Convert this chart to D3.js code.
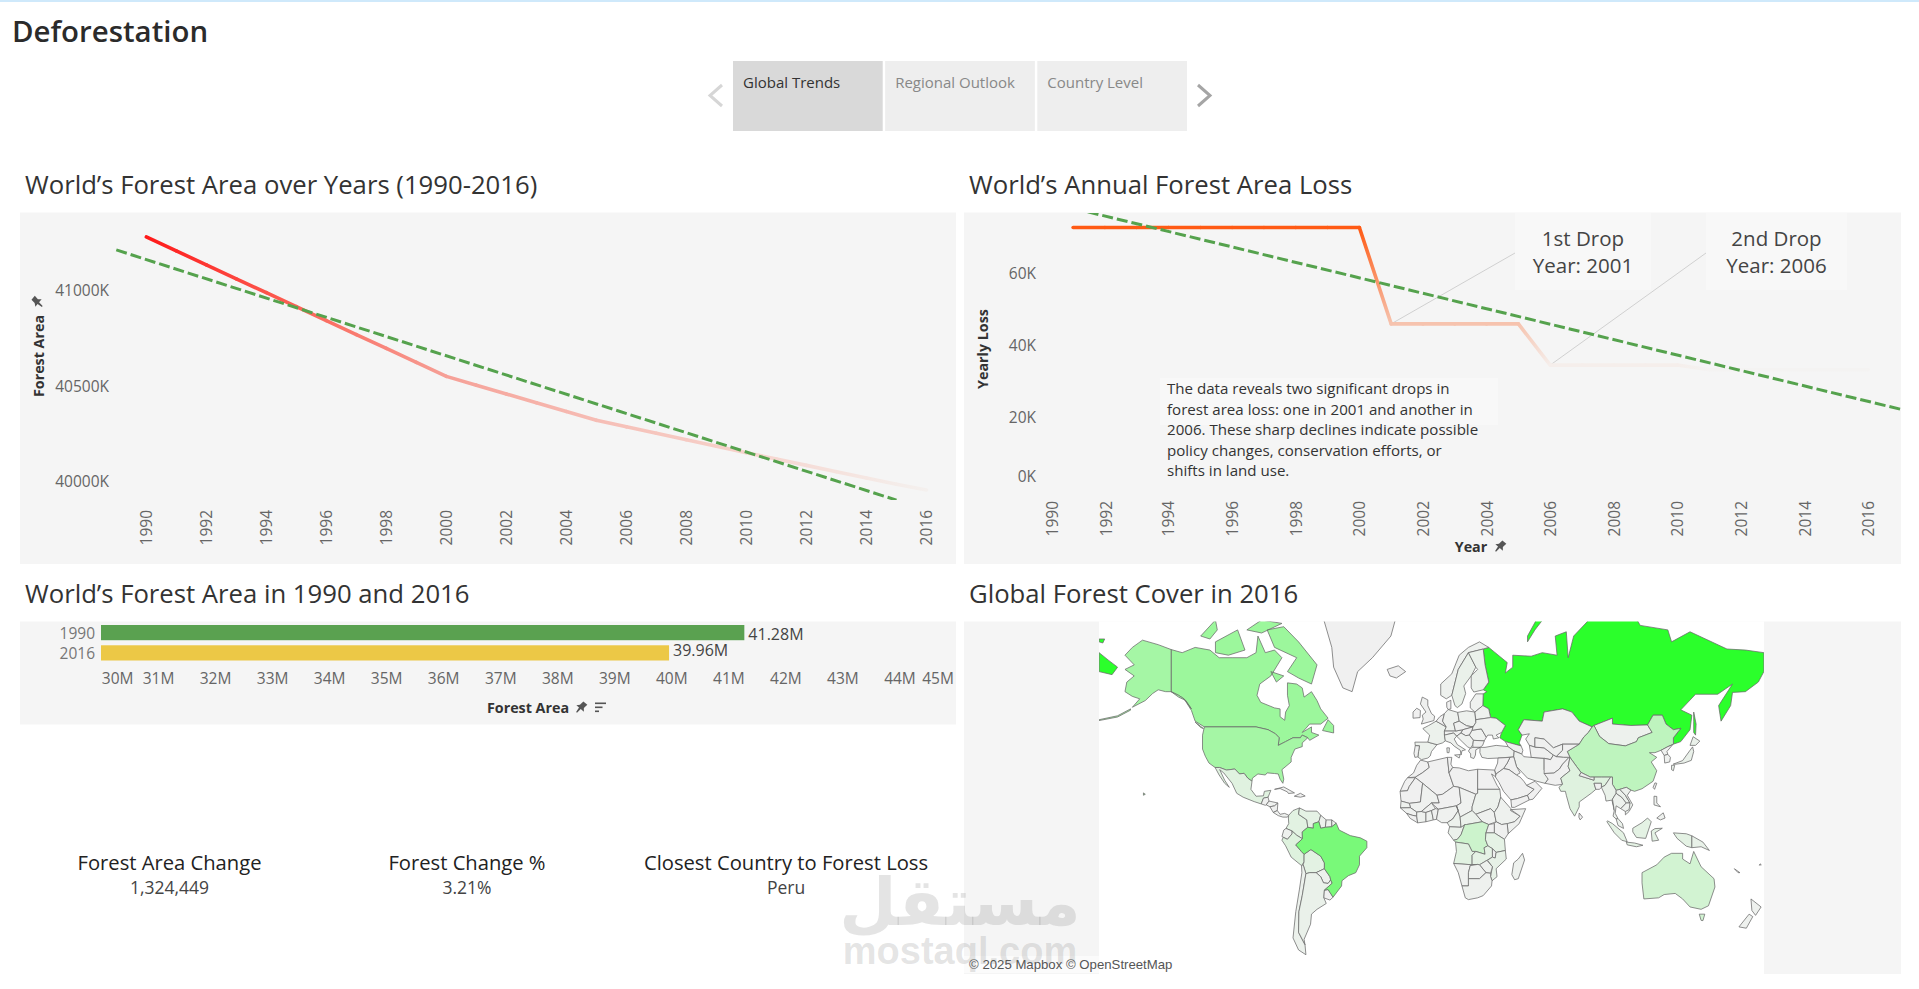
<!DOCTYPE html>
<html><head><meta charset="utf-8">
<script src="https://cdnjs.cloudflare.com/ajax/libs/d3/7.8.5/d3.min.js"></script>
<style>
html,body{margin:0;padding:0;background:#fff;overflow:hidden}
text{font-family:"Open Sans",sans-serif}
</style></head><body><svg id="c" width="1919" height="989"></svg>
<script>
// ---------- DATA ----------
const pageTitle="Deforestation";
const tabs=["Global Trends","Regional Outlook","Country Level"];
const years=[1990,1991,1992,1993,1994,1995,1996,1997,1998,1999,2000,2001,2002,2003,2004,2005,2006,2007,2008,2009,2010,2011,2012,2013,2014,2015,2016];
const forestAreaK=[41283,41210,41137,41064,40991,40918,40845,40772,40699,40626,40553,40507,40461,40415,40369,40323,40289,40255,40221,40187,40153,40120,40087,40054,40021,39988,39958];
const areaTrendYears=[1989,2015];
const areaTrendValues=[41215,39905];
const areaTicks=[40000,40500,41000];
const evenYears=[1990,1992,1994,1996,1998,2000,2002,2004,2006,2008,2010,2012,2014,2016];
const lossYears=[1991,1992,1993,1994,1995,1996,1997,1998,1999,2000,2001,2002,2003,2004,2005,2006,2007,2008,2009,2010,2011,2012,2013,2014,2015,2016];
const yearlyLossK=[72.7,72.7,72.7,72.7,72.7,72.7,72.7,72.7,72.7,72.7,45.8,45.8,45.8,45.8,45.8,34.3,34.3,34.3,34.3,34.3,33,33,33,33,33,33];
const lossTrendYears=[1991,2017];
const lossTrendValues=[78.05,22];
const lossTicks=[0,20,40,60];
const dropNotes=[{year:2001,loss:45.8,l1:"1st Drop",l2:"Year: 2001"},{year:2006,loss:34.3,l1:"2nd Drop",l2:"Year: 2006"}];
const noteLines=["The data reveals two significant drops in","forest area loss: one in 2001 and another in","2006. These sharp declines indicate possible","policy changes, conservation efforts, or","shifts in land use."];
const barYears=["1990","2016"];
const barValuesM=[41.28,39.96];
const barLabels=["41.28M","39.96M"];
const barTicks=[30,31,32,33,34,35,36,37,38,39,40,41,42,43,44,45];
const kpiTitles=["Forest Area Change","Forest Change %","Closest Country to Forest Loss"];
const kpiValues=["1,324,449","3.21%","Peru"];
// Map: [country, forest area in million km², rings of [lon,lat]]
const mapCountries=[
["Russia",8.15,[[[28,69.7],[31,70],[41,67],[40,64.7],[44,66],[44,68.5],[54,68.3],[60,69],[68,68.5],[67,72],[73,72.7],[74,68],[77,72],[87,75],[104,77.7],[113,73.7],[128,73],[130,71],[140,72.7],[160,69.7],[170,69.5],[180,69],[180,65],[177,62.5],[170,60],[163,59.8],[162,56],[156.8,51],[155.5,56],[163,62],[155,59.3],[143,59.3],[135,54.7],[141,53],[140,48],[135,43.5],[131,42.5],[131,45],[135,48.5],[131,48],[127,50],[125,53],[120,53],[117,49.7],[108,49.5],[98,50],[98,52],[88,49.5],[87,49],[80,51],[76,54],[71,55],[61,54],[60,51],[50,51.5],[47,48],[49,46],[47.5,43],[48.5,41.8],[45,42.5],[40,43.5],[37,45],[38,47],[40,49.5],[35,52],[32,52.2],[31,55],[27.8,56],[28,59.4],[30,60],[28,60.5],[31,62.5],[29,66.5]],[[52,71],[56,73],[68,77],[60,76],[52,72]],[[142,54],[143.3,50],[143,46],[142,47],[142,51]],[[-180,69],[-175,67.5],[-170,66],[-173,64.3],[-180,65]],[[-180,71.5],[-177,71.5],[-178,70.8],[-180,71]]]],
["Canada",3.47,[[[-141,69.6],[-135,69],[-128,70],[-120,69.5],[-115,68],[-108,68],[-100,68],[-95,69],[-94,72],[-90,69],[-85,69.5],[-81,68],[-87,64],[-93,62],[-94.5,59],[-92.5,57],[-85,55.3],[-82,55],[-82,52.5],[-79.5,51.3],[-79,54],[-77,56],[-78,59],[-78,62.3],[-73,62],[-70,61],[-69,58.5],[-65,60],[-62,57.5],[-60,55],[-56,52],[-60,50],[-66,50],[-70,47],[-65,49],[-65,47],[-61,46],[-66,44],[-67,45],[-70,46],[-71,45],[-75,45],[-79,43.5],[-83,42],[-82.5,45],[-84.5,46.5],[-88.5,48],[-95,49],[-123,49],[-128,51],[-130,54.5],[-134,58],[-137,59],[-141,60]],[[-80,73.5],[-72,71],[-62,66.5],[-65,62],[-72,63.5],[-78,65],[-73,68],[-85,70],[-89,73]],[[-117,71],[-105,73],[-101,69.5],[-110,68.5],[-117,69]],[[-90,76.5],[-75,78],[-63,81.5],[-72,83],[-90,82]],[[-125,72],[-117,74.5],[-116,73],[-120,71.5]],[[-59,47.7],[-53,46.8],[-53,49.5],[-56,51.5]],[[-128,50.7],[-123.5,48.4],[-125,48.8]],[[-100,73],[-92,74.5],[-81,74],[-92,72.5]],[[-117,75.5],[-105,76.5],[-106,75],[-116,74.8]],[[-96,80],[-87,81],[-86,78.5],[-94,78]],[[-95,75.6],[-80,75.8],[-80,74.8],[-92,74.8]],[[-87,65],[-80,64],[-84,62.5]]]],
["United States",3.1,[[[-123,49],[-95,49],[-88.5,48],[-84.5,46.5],[-82.5,45],[-83,42],[-79,43.5],[-75,45],[-71,45],[-70,46],[-67,45],[-70,43],[-70,41.5],[-74,40.5],[-76,37],[-76,35],[-81,31.5],[-80,27],[-80.5,25],[-82,27],[-83,29.5],[-85,29.7],[-89,30],[-90,29],[-94,29.5],[-97,27.5],[-97.2,26],[-99.5,27.5],[-101.5,29.8],[-104,29.5],[-106.5,31.8],[-111,31.3],[-114.8,32.5],[-117.2,32.5],[-120.5,34.5],[-122.5,37.5],[-124,40.5],[-124,46]],[[-141,69.6],[-148,70.5],[-156.5,71.3],[-162,70],[-166,68.5],[-161,66.5],[-166,65.5],[-161,64],[-165,62.5],[-166,60],[-162,58.7],[-158,58],[-162,55.5],[-155,57.5],[-151,59.5],[-148,60.5],[-144,60],[-141,60],[-137,59],[-134,58],[-130,55],[-133,57.5],[-137,58.5],[-141,60]],[[-163,55],[-170,52.8],[-180,51.5],[-180,51.2],[-170,52.4],[-163,54.6]],[[-156,20.2],[-155,19.5],[-156,19]]]],
["Greenland",0,[[[-73,78],[-60,82],[-32,83.5],[-20,81.5],[-18,76],[-22,72],[-32,68],[-40,65],[-43,60],[-48,61],[-53,66],[-54,70],[-60,76]]]],
["Iceland",0,[[[-24,65.5],[-18,66.3],[-14,65],[-19,63.5],[-22.5,64]]]],
["Mexico",.66,[[[-117.2,32.5],[-114.8,32.5],[-111,31.3],[-106.5,31.8],[-104,29.5],[-101.5,29.8],[-99.5,27.5],[-97.2,26],[-97.8,22],[-95,18.5],[-91,18.7],[-90.5,21],[-87,21.5],[-88.5,18],[-91,17.5],[-92.2,14.5],[-96,15.7],[-102,18],[-105.5,20],[-108,25],[-112.5,30],[-114.7,31.5],[-112,26.5],[-109.5,23],[-112,25],[-115,29]]]],
["Guatemala",.04,[[[-92.2,14.5],[-91,17.5],[-88.5,18],[-88,16],[-89.5,14],[-90,13.8]]]],
["Honduras",.05,[[[-89.5,14],[-88,16],[-83.2,15],[-85,13.5],[-87.5,13]]]],
["Nicaragua",.03,[[[-87.5,13],[-85,13.5],[-83.2,15],[-83.5,11],[-85.7,10]]]],
["Panama",.05,[[[-85.7,10],[-83.5,11],[-82,9],[-79.5,9.5],[-77.3,8.5],[-78,7.5],[-80.5,7.5],[-83,8.3]]]],
["Cuba",.03,[[[-85,22],[-80,23.2],[-74.2,20.2],[-77.5,19.9],[-78,20.7],[-82,22.4]]]],
["Hispaniola",.01,[[[-74.3,18.5],[-71,20],[-68.4,18.6],[-71,18]]]],
["Colombia",.58,[[[-77.3,8.5],[-75,11],[-71.5,12.4],[-72,9],[-67.5,6],[-67,2],[-70,-.5],[-69.9,-4.2],[-73,-2.3],[-75.5,0],[-78.8,1.4],[-77.3,4],[-77.5,7]]]],
["Venezuela",.46,[[[-71.5,12.4],[-68,10.7],[-62,10.7],[-60,8.5],[-61,5],[-64,4],[-64,1.5],[-67,2],[-67.5,6],[-72,9]]]],
["Guyana",.16,[[[-60,8.5],[-57,6],[-57.5,2],[-60,1.5],[-61,5]]]],
["Suriname",.15,[[[-57,6],[-54,6],[-54,2.3],[-57.5,2]]]],
["French Guiana",.08,[[[-54,6],[-51.6,4.2],[-54,2.3]]]],
["Ecuador",.12,[[[-78.8,1.4],[-75.5,0],[-75.5,-1.5],[-78,-4.5],[-81,-3],[-80,.5]]]],
["Peru",.74,[[[-81,-5],[-80.3,-3.4],[-78,-4.5],[-75.5,-1.5],[-75.5,0],[-73,-2.3],[-69.9,-4.2],[-73.5,-7.5],[-70.5,-11],[-69,-12.5],[-69,-16.5],[-70.4,-18.4],[-76,-14],[-79,-8]]]],
["Bolivia",.55,[[[-69,-12.5],[-65.3,-10],[-60,-13.5],[-58,-17],[-58,-20],[-62.5,-22],[-66,-22],[-68,-22.5],[-69.5,-18],[-69,-16.5]]]],
["Paraguay",.15,[[[-58,-20],[-55,-24],[-54.6,-25.6],[-56,-27.3],[-58.5,-27],[-60,-24],[-62.5,-22]]]],
["Chile",.18,[[[-70.4,-18.4],[-69.5,-18],[-68,-22.5],[-70,-33],[-71.8,-40],[-72,-48],[-68.5,-52.3],[-68,-55.5],[-72,-54],[-75,-50],[-73.5,-40],[-71.5,-30],[-70.2,-22]]]],
["Argentina",.27,[[[-66,-22],[-62.5,-22],[-60,-24],[-58.5,-27],[-56,-27.3],[-54.6,-25.6],[-53.8,-27.2],[-58,-30.5],[-58.3,-34],[-57,-36.5],[-62,-39],[-65,-41],[-65.5,-45],[-69,-50.5],[-68.5,-52.3],[-72,-48],[-71.8,-40],[-70,-33],[-68,-22.5]]]],
["Uruguay",.02,[[[-58,-30.5],[-56,-30.2],[-53.3,-33.7],[-55,-35],[-58.3,-34]]]],
["Brazil",4.93,[[[-69.9,-4.2],[-70,-.5],[-67,2],[-64,1.5],[-64,4],[-61,5],[-60,1.5],[-57.5,2],[-54,2.3],[-51.6,4.2],[-50,.5],[-44,-2.5],[-38.5,-3.7],[-35,-5.5],[-35,-9],[-39,-13.5],[-39,-18],[-41,-22],[-45,-23.5],[-48.5,-26],[-48.7,-28.5],[-53.3,-33.7],[-56,-30.2],[-58,-30.5],[-53.8,-27.2],[-54.6,-25.6],[-55,-24],[-58,-20],[-58,-17],[-60,-13.5],[-65.3,-10],[-69,-12.5],[-70.5,-11],[-73.5,-7.5]]]],
["Morocco",.01,[[[-5.9,35.8],[-2,35],[-1.2,32.5],[-5,30],[-8.7,28],[-13,27.7],[-9.7,30],[-8,33.5]]]],
["Western Sahara",0,[[[-13,27.7],[-8.7,27.7],[-12,23.5],[-13,21.3],[-17,21],[-14.5,26]]]],
["Algeria",.02,[[[-2,35],[8.6,37],[9.5,30],[12,23.5],[6,19.5],[3,19],[-4.8,25],[-8.7,27.7],[-8.7,28],[-5,30],[-1.2,32.5]]]],
["Tunisia",.01,[[[8.6,37],[11,37],[10.5,34],[11.5,32.5],[9.5,30]]]],
["Libya",0,[[[11.5,32.5],[15,32.3],[20,31],[25,31.7],[25,20],[24,19.5],[15,23],[12,23.5],[9.5,30]]]],
["Egypt",0,[[[25,31.7],[34.2,31.3],[35,28],[32.5,29.5],[35.5,24],[37,22],[25,22]]]],
["Mauritania",0,[[[-17,21],[-13,21.3],[-12,23.5],[-8.7,27.7],[-4.8,25],[-6,15.5],[-12,14.8],[-16.5,16]]]],
["Mali",.05,[[[-4.8,25],[3,19],[4.2,15],[0,15],[-5.5,10.5],[-8,10.2],[-11.4,12.5],[-12,14.8],[-6,15.5]]]],
["Niger",.01,[[[3,19],[6,19.5],[12,23.5],[15,23],[16,15],[13.5,13.5],[3.7,11.7],[0,15],[4.2,15]]]],
["Chad",.05,[[[15,23],[24,19.5],[22,13],[22,11],[15.5,7.5],[13.5,13.5],[16,15]]]],
["Sudan",.18,[[[25,22],[37,22],[37.5,18],[36,13],[34,10],[32,12],[24,9],[22,11],[22,13],[24,19.5],[25,20]]]],
["South Sudan",.07,[[[24,9],[32,12],[34,10],[35,5],[31,3.5],[27.5,5]]]],
["Ethiopia",.12,[[[36,13],[37.5,18],[43,12],[42.8,11],[48,8],[45,5],[41.5,4],[38,3.5],[35,5],[34,10]]]],
["Somalia",.06,[[[43,11.5],[51,12],[47.5,4],[41.5,-1.5],[41,4],[45,5],[48,8]]]],
["Kenya",.04,[[[35,5],[38,3.5],[41,4],[41.5,-1.5],[39.5,-4.5],[34,-1],[34,4]]]],
["Senegal",.08,[[[-16.5,16],[-12,14.8],[-11.4,12.5],[-16.8,12.4]]]],
["Guinea",.06,[[[-16.8,12.4],[-11.4,12.5],[-8,10.2],[-8,8],[-10.5,8.5],[-13.5,9.5]]]],
["Liberia",.04,[[[-13.5,9.5],[-10.5,8.5],[-8,8],[-7.5,4.4],[-11.5,6.8]]]],
["Ivory Coast",.1,[[[-8,10.2],[-5.5,10.5],[-3,10],[-3,5],[-7.5,4.4],[-8,8]]]],
["Burkina Faso",.05,[[[-5.5,10.5],[0,15],[2.2,12],[0,11],[-3,10]]]],
["Ghana",.09,[[[-3,10],[0,11],[1,6],[-3,5]]]],
["Benin",.04,[[[0,11],[2.2,12],[3.7,11.7],[2.7,6.3],[1,6]]]],
["Nigeria",.07,[[[3.7,11.7],[13.5,13.5],[14.5,11],[11.5,6.5],[8.5,4.5],[5.5,4.5],[2.7,6.3]]]],
["Cameroon",.19,[[[8.5,4.5],[11.5,6.5],[14.5,11],[13.5,13.5],[15.5,7.5],[16,2],[9.8,2.3]]]],
["Central African Republic",.22,[[[15.5,7.5],[22,11],[24,9],[27.5,5],[19,3.5],[16,2]]]],
["Congo",.22,[[[9.8,2.3],[16,2],[18,3.5],[16,-2],[14,-4.5],[12,-5],[9,-1]]]],
["DR Congo",1.5,[[[18,3.5],[19,3.5],[27.5,5],[31,3.5],[29.5,-1],[29.2,-4.5],[30.5,-8],[28.5,-9],[29,-12.5],[24,-11],[22,-11],[20,-7],[13,-6],[12,-5],[14,-4.5],[16,-2]]]],
["Uganda",.02,[[[31,3.5],[34,4],[34,-1],[29.5,-1]]]],
["Tanzania",.47,[[[29.5,-1],[34,-1],[39.5,-4.5],[40,-10.5],[35,-11.5],[33,-9.5],[30.5,-8],[29.2,-4.5]]]],
["Angola",.58,[[[13,-6],[20,-7],[22,-11],[24,-11],[22,-13],[22,-18],[12,-17.3],[13.5,-11]]]],
["Zambia",.49,[[[22,-13],[24,-11],[29,-12.5],[28.5,-9],[30.5,-8],[33,-9.5],[33,-14],[30,-15.7],[26,-18],[22,-18]]]],
["Malawi",.03,[[[33,-9.5],[35,-11.5],[34.5,-14.5],[33,-14]]]],
["Mozambique",.38,[[[35,-11.5],[40,-10.5],[40.5,-15],[35,-20],[35.5,-24],[32.8,-26],[32,-24],[33,-19],[30.3,-15.6],[33,-14],[34.5,-14.5]]]],
["Zimbabwe",.14,[[[26,-18],[30,-15.7],[33,-19],[32,-22.3],[29.5,-22]]]],
["Namibia",.07,[[[12,-17.3],[22,-18],[25,-17.8],[21,-18.4],[20,-22],[20,-28.5],[16.5,-28.5],[14.5,-22]]]],
["Botswana",.1,[[[21,-18.4],[25,-17.8],[26,-18],[29.5,-22],[26,-25],[20,-25],[20,-22]]]],
["South Africa",.09,[[[16.5,-28.5],[20,-28.5],[20,-25],[26,-25],[29.5,-22],[32,-22.3],[32,-24],[32.8,-26],[32.5,-28.5],[28,-33],[25,-34],[20,-34.8],[18.3,-34]]]],
["Madagascar",.12,[[[49.3,-12],[50.4,-15.5],[47,-25],[45,-25.5],[43.5,-23],[44.5,-17],[47,-15]]]],
["Spain",.18,[[[-9,43.3],[-2,43.3],[3,42.3],[0,39.5],[-.7,37.6],[-2,36.7],[-5.5,36],[-7.4,37.2],[-7,39.5],[-6.5,41.8],[-8.8,41.9]]]],
["Portugal",.03,[[[-8.8,41.9],[-6.5,41.8],[-7,39.5],[-7.4,37.2],[-9,37],[-9.5,38.7]]]],
["France",.17,[[[-2,43.3],[3,42.3],[6,43],[7.5,43.8],[7,46],[7,47.5],[8,49],[2.5,51],[-1.5,49.5],[-4.7,48.4],[-1,46]]]],
["United Kingdom",.03,[[[-5.5,50],[1.3,51.2],[1.7,52.7],[0,53.5],[-2,56],[-2,57.7],[-5,58.5],[-6,56.5],[-3,54],[-5,53],[-4.5,51.7]]]],
["Ireland",.01,[[[-10,52],[-6.2,52.2],[-6,54.5],[-8,55.2],[-10,54]]]],
["Benelux",.01,[[[2.5,51],[8,49],[6,51],[7,53.5],[4.5,52.5]]]],
["Germany",.11,[[[7,47.5],[13,47.5],[12,50.3],[15,51],[14.2,53.9],[9,54.8],[7,53.5],[6,51],[8,49]]]],
["Poland",.09,[[[14.2,53.9],[19,54.4],[23.5,54],[24,50.5],[22.5,49],[19,49.4],[15,51]]]],
["Austria",.04,[[[7,47.5],[13,47.5],[17,48],[16,46.8],[13.6,45.6],[12,46.8],[7,46]]]],
["Czechia",.04,[[[12,50.3],[15,51],[19,49.4],[22.5,49],[17,48],[13,47.5]]]],
["Hungary",.02,[[[16,46.8],[17,48],[22.5,49],[22,47.8],[20.5,46],[18.5,45.8]]]],
["Romania",.07,[[[22,47.8],[27,48.3],[29.7,45.2],[28.6,43.8],[22.7,44],[20.5,46]]]],
["Balkans",.06,[[[13.6,45.6],[16,46.8],[18.5,45.8],[20.5,46],[22.7,44],[22.4,42.3],[21,40.8],[19.4,41.5],[17,43.2]]]],
["Bulgaria",.04,[[[22.7,44],[28.6,43.8],[27.7,42],[26.3,41.2],[22.4,41.2],[22.4,42.3]]]],
["Greece",.04,[[[20,39.7],[21,40.8],[22.4,41.2],[26.3,41.2],[24,40.2],[23.8,38],[22.9,36.5],[21.2,37],[21.2,38.5]]]],
["Italy",.09,[[[7.5,43.8],[7,46],[12,46.8],[13.6,45.6],[12.3,44.5],[14,42.3],[18.4,40.2],[16.5,39.8],[16,38],[15.6,40],[12.3,41.7],[10.5,43]],[[12.5,38],[15.5,38.2],[15,36.7]],[[8.3,41],[9.7,41],[9.5,39],[8.5,39]]]],
["Denmark",.01,[[[8.2,57],[10.5,57.6],[10.5,55],[9,54.8],[8.3,55.5]]]],
["Norway",.12,[[[5,59],[5,62],[11,64.5],[15,68.5],[20,70],[26,71],[31,70],[28,69.7],[20,69],[14.5,65.5],[12,61],[11,59],[8,58]]]],
["Sweden",.28,[[[11,59],[12,61],[14.5,65.5],[20,69],[24,66],[21.5,64],[17.5,61.5],[18.5,59.5],[16.5,56.5],[14,55.4],[12.7,56]]]],
["Finland",.22,[[[20,69],[28,69.7],[29,66.5],[31,62.5],[28,60.5],[22.9,59.9],[21.5,61],[21.5,64],[25,65.5],[24,66]]]],
["Baltics",.07,[[[21,57],[24,59.4],[28,59.4],[27.8,56],[23.5,54],[21,55.3]]]],
["Belarus",.09,[[[23.5,54],[27.8,56],[31,55],[32,52.2],[24,51.5]]]],
["Ukraine",.1,[[[24,50.5],[24,51.5],[32,52.2],[35,52],[40,49.5],[38,47],[35,46],[36.5,45],[33.5,44.5],[33,46],[30.5,46],[29.7,45.2],[27,48.3],[22,47.8],[22.5,49]]]],
["Turkey",.12,[[[26.3,41.2],[29,41.2],[35,42],[41.5,41.5],[44.8,39.7],[44.5,37.2],[36,36.7],[30.5,36.5],[27.3,37],[26.2,39]]]],
["Caucasus",.03,[[[40,43.5],[45,42.5],[48.5,41.8],[49.5,40],[48.9,38.4],[44.8,39.7],[41.5,41.5]]]],
["Kazakhstan",.03,[[[47,48],[50,51.5],[60,51],[61,54],[71,55],[76,54],[80,51],[87,49],[85,47],[82.5,45.3],[80,42.5],[71,42.5],[66,41],[61,44.5],[56,45],[56,41.3],[53,42],[51,44.5],[53,46.5],[49,46]]]],
["Mongolia",.13,[[[88,49.5],[98,52],[98,50],[108,49.5],[117,49.7],[119.5,47],[112,45],[111,43.5],[105,41.8],[96,42.7],[91,45.5]]]],
["China",2.1,[[[73.5,39.5],[80,42.5],[82.5,45.3],[85,47],[87,49],[88,49.5],[91,45.5],[96,42.7],[105,41.8],[111,43.5],[112,45],[119.5,47],[117,49.7],[120,53],[125,53],[127,50],[131,48],[135,48.5],[131,45],[131,42.5],[128,41.5],[124.3,40],[121,39],[118,39],[122,37],[119,35],[122,31],[120,26],[114,22.3],[110,21],[108,21.6],[105.5,23],[102,22],[100,21.5],[98,24.5],[98,28],[92,28],[88,28],[86,28],[81,30.2],[78.5,33],[75,37]]]],
["North Korea",.05,[[[124.3,40],[128,41.5],[130.6,42.3],[127.5,39.5],[128,38.3],[126,37.8]]]],
["South Korea",.06,[[[126,37.8],[128,38.3],[129.4,37],[129,35],[126.3,34.5]]]],
["Japan",.25,[[[130.9,34],[136,35.6],[140,40],[141.4,41.4],[142,39.5],[140.7,35.7],[136.8,34.5],[132.5,34]],[[140,42],[141.7,45.4],[145.3,43.7],[143,42]],[[130,33.5],[131.7,33.5],[131,31],[130,31.5]]]],
["Iran",.1,[[[44.5,37.2],[44.8,39.7],[48.9,38.4],[50,37.3],[54,37],[61,36.6],[61,31.5],[63.2,27],[61.5,25],[57,26],[52,27.5],[49,30.3],[46,33],[45,36]]]],
["Iraq",.01,[[[41,34.5],[42.5,37],[44.5,37.2],[45,36],[46,33],[48,30],[46,29],[42,31.5],[39,32]]]],
["Syria",0,[[[36,36.7],[42.5,37],[41,34.5],[39,32],[35,29.5],[34.2,31.3],[35.8,34.5]]]],
["Saudi Arabia",.01,[[[34.6,28.1],[35,29.5],[39,32],[42,31.5],[46,29],[48,28],[50,26],[51.5,24],[55.6,22],[52,19],[46.5,17.3],[43,16.6],[39,21],[36.5,25.5]]]],
["Yemen",.01,[[[43,16.6],[46.5,17.3],[52,19],[53,16.6],[45,12.7],[43.4,12.7]]]],
["Oman",0,[[[51.5,24],[56,26],[59.8,22.5],[55,17],[53,16.6],[52,19],[55.6,22]]]],
["Turkmenistan",.04,[[[53,42],[56,41.3],[61,41],[66,38],[64.5,36],[61,36.6],[54,37]]]],
["Uzbekistan",.03,[[[56,41.3],[56,45],[61,44.5],[66,41],[71,42.5],[71,40],[67.5,37.3],[66,38],[61,41]]]],
["Kyrgyzstan",.01,[[[71,42.5],[80,42.5],[73.5,39.5],[75,37],[71.5,37],[67.5,37.3],[71,40]]]],
["Afghanistan",.01,[[[61,36.6],[64.5,36],[66,38],[67.5,37.3],[71.5,37],[74.5,37],[71,34],[69.3,31.8],[66.3,29.9],[61,29.7],[61,31.5]]]],
["Pakistan",.01,[[[61,29.7],[66.3,29.9],[69.3,31.8],[71,34],[74.5,37],[75,37],[74,33],[75,31],[70,27.5],[71,24.5],[67,24],[61.5,25],[63.2,27]]]],
["India",.7,[[[74,33],[75,37],[78.5,33],[81,30.2],[80,28.7],[88,26.5],[88,28],[92,28],[97,28],[94,24],[92,23],[92,25],[88,25],[89,22],[86.5,20],[80,15.5],[80,13],[77.5,8],[75,12],[73,19],[72.5,21],[70,21],[69,23],[71,24.5],[70,27.5],[75,31]]]],
["Nepal",.04,[[[80,28.7],[81,30.2],[86,28],[88,28],[88,26.5]]]],
["Bangladesh",.01,[[[88,25],[92,25],[92,23],[91,22],[89,22]]]],
["Sri Lanka",.02,[[[80,9.7],[81.8,7.5],[80.5,6],[79.8,7.5]]]],
["Myanmar",.29,[[[92,23],[94,24],[97,28],[98,28],[98,24.5],[100,21.5],[100,20],[98,17],[99,11],[97.7,16.5],[94.5,16],[94,19]]]],
["Thailand",.16,[[[98,17],[100,20],[103,18],[105.5,15],[102.5,12],[100,13.5],[99.5,9.5],[101,6.7],[100,6.5],[98.3,8],[99,11]]]],
["Laos",.18,[[[100,21.5],[102,22],[105,19],[107.5,15],[105.5,15],[103,18],[100,20]]]],
["Vietnam",.15,[[[102,22],[105.5,23],[108,21.6],[106,19],[109,14],[107,10.5],[105,8.7],[105,10.5],[107.5,15],[105,19]]]],
["Cambodia",.09,[[[102.5,12],[105.5,15],[107.5,15],[107,11.5],[105,10.5]]]],
["Malaysia",.22,[[[100,6.5],[101,6.7],[103.4,4],[104,1.4],[101,3]]]],
["Indonesia",.5,[[[95.3,5.5],[98,4],[104,-1],[106,-5.8],[103,-5],[99,-1],[95,5]],[[105.5,-6],[110,-6.5],[114.5,-7.7],[111,-8.5],[106,-7.5]],[[109,1.5],[114,4.5],[117,7],[119,5],[117.5,.5],[116,-4],[111,-3.5],[109,-.5]],[[119.5,-5.5],[119,0],[121,1.3],[125,1.5],[121,-1],[123,-5]],[[131,-1],[138,-1.5],[141,-2.6],[141,-9],[138,-8.2],[133,-4]]]],
["Papua New Guinea",.33,[[[141,-2.6],[147,-6],[150.5,-10.5],[146,-8.5],[141,-9]]]],
["Philippines",.08,[[[120.5,18.5],[122,18.4],[122,15],[124,13],[120.5,14]],[[122,7],[125.5,9.8],[126.5,7],[124,6]]]],
["Taiwan",.02,[[[121,25.2],[122,25],[120.8,22],[120,23]]]],
["Australia",1.25,[[[114,-22],[122,-18],[126,-14],[130,-12],[136,-12],[136,-15],[140,-17.5],[142,-11],[146,-19],[153,-25],[153.5,-29],[150,-37.5],[146,-39],[140,-38],[136,-34.5],[132,-32],[126,-32.5],[123,-34],[115,-34.5],[114,-27]],[[145,-41],[148,-41],[147,-43.6],[146,-43.5]]]],
["New Zealand",.1,[[[173,-34.5],[178.5,-38],[175.5,-41.5],[173.5,-39.5]],[[172,-41],[174,-42],[170.5,-46.5],[166.5,-46]]]],
["Pacific islands",.01,[[[178,-17.5],[178.6,-18],[177.5,-18.2]],[[164,-20],[167,-22],[166,-22]]]]
];

// ---------- DRAW ----------
const svg=d3.select("#c");
const defs=svg.append("defs");
const DARK="#333",TICK="#666",PANEL="#f5f5f5",TICKFONT='"Open Sans"';
function txt(g,x,y,s,o={}){const t=g.append("text").attr("x",x).attr("y",y).attr("dominant-baseline","central").attr("text-anchor",o.a||"start").attr("font-size",o.s||15).attr("font-weight",o.w||400).attr("fill",o.f||DARK).text(s);if(o.r)t.attr("transform",`rotate(${o.r},${x},${y})`);if(o.ff)t.style("font-family",o.ff);return t;}
function rect(g,x,y,w,h,f){return g.append("rect").attr("x",x).attr("y",y).attr("width",w).attr("height",h).attr("fill",f);}
function clip(id,x,y,w,h){defs.append("clipPath").attr("id",id).append("rect").attr("x",x).attr("y",y).attr("width",w).attr("height",h);}
function pin(g,x,y,rot){g.append("path").attr("transform",`translate(${x},${y}) rotate(${rot||0}) scale(1.15)`).attr("d","M-1.5,-5L3,-5L2.4,-1L4.5,1.5L1,1.5L.5,6L-.5,6L-1,1.5L-4,1.5L-2,-1Z").attr("fill","#555");}
function gradLine(g,pts,col,id,w){
  pts.slice(1).forEach((p,i)=>{const a=pts[i],gid=id+i;
    const gr=defs.append("linearGradient").attr("id",gid).attr("gradientUnits","userSpaceOnUse").attr("x1",a[0]).attr("y1",a[1]).attr("x2",p[0]).attr("y2",p[1]);
    gr.append("stop").attr("offset",0).attr("stop-color",col(a[2]));
    gr.append("stop").attr("offset",1).attr("stop-color",col(p[2]));
    g.append("path").attr("d",`M${a[0]},${a[1]}L${p[0]},${p[1]}`).attr("stroke",`url(#${gid})`).attr("stroke-width",w).attr("fill","none").attr("stroke-linecap","round");
  });
}
function styleAxis(ax,size){ax.select(".domain").remove();ax.selectAll("text").attr("font-size",size).attr("fill",TICK).style("font-family",TICKFONT);}
function rotateTicks(ax){ax.selectAll("text").attr("text-anchor","end").attr("transform","rotate(-90)").attr("x",-4).attr("y",0).attr("dy","0.35em");}

// page chrome
rect(svg,0,0,1919,2,"#cfe9fb");
txt(svg,12,31,pageTitle,{s:29.4,w:600,f:"#2b2b2b"});
const tabX=d3.scaleBand().domain(tabs).range([733,1187]).paddingInner(0.016);
tabs.forEach((t,i)=>{rect(svg,tabX(t),61,tabX.bandwidth(),70,i==0?"#d9d9d9":"#eeeeee");
  txt(svg,tabX(t)+10,82,t,{s:15,f:i==0?"#333":"#888"});});
svg.append("path").attr("d","M722,85L710,95.5L722,106").attr("fill","none").attr("stroke","#d6d6d6").attr("stroke-width",3);
svg.append("path").attr("d","M1198,85L1210,95.5L1198,106").attr("fill","none").attr("stroke","#a5a5a5").attr("stroke-width",3);

// panel titles
[[25,184,"World’s Forest Area over Years (1990-2016)"],[969,184,"World’s Annual Forest Area Loss"],[25,593,"World’s Forest Area in 1990 and 2016"],[969,593,"Global Forest Cover in 2016"]].forEach(d=>txt(svg,d[0],d[1],d[2],{s:25.7,f:"#333"}));
// panels
rect(svg,20,212.5,936,351.5,PANEL);rect(svg,964,212.5,937,351.5,PANEL);rect(svg,20,621.5,936,103,PANEL);rect(svg,964,621.5,937,352.5,PANEL);

// Chart 1
const x1=d3.scaleLinear().domain([1990,2016]).range([146.3,926.5]);
const y1=d3.scaleLinear().domain([40000,41000]).range([482,291]);
const col1=d3.scaleLinear().domain([39958,40153,40553,40920,41283]).range(["#f4f0ee","#f6d3cc","#f6a097","#fb6256","#ff1a1a"]);
const axL1=svg.append("g").attr("transform","translate(109,0)").call(d3.axisLeft(y1).tickValues(areaTicks).tickSize(0).tickPadding(0).tickFormat(d=>d+"K"));
styleAxis(axL1,15.5);
const axB1=svg.append("g").attr("transform","translate(0,506)").call(d3.axisBottom(x1).tickValues(evenYears).tickSize(0).tickFormat(d3.format("d")));
styleAxis(axB1,15.5);rotateTicks(axB1);
txt(svg,38,356,"Forest Area",{s:14.3,w:700,a:"middle",r:-90});
pin(svg,37,302,-50);
gradLine(svg.append("g"),years.map((yr,i)=>[x1(yr),y1(forestAreaK[i]),forestAreaK[i]]),col1,"g1_",3.6);
clip("c1",20,213,936,287);
svg.append("path").attr("clip-path","url(#c1)").attr("d",d3.line().x(d=>x1(d)).y((d,i)=>y1(areaTrendValues[i]))(areaTrendYears))
  .attr("fill","none").attr("stroke","#55a24d").attr("stroke-width",3).attr("stroke-dasharray","11 4");

// Chart 2
const x2=d3.scaleLinear().domain([1990,2016]).range([1041.3,1868.3]);
const y2=d3.scaleLinear().domain([0,60]).range([488,273]);
const col2=d3.scaleLinear().domain([33,34.3,45.8,72.7]).range(["#f4f3f2","#f5eeeb","#f6c3ae","#ff5a14"]);
const axL2=svg.append("g").attr("transform","translate(1036,1)").call(d3.axisLeft(y2).tickValues(lossTicks).tickSize(0).tickPadding(0).tickFormat(d=>d+"K"));
styleAxis(axL2,15.5);
axL2.selectAll(".tick").filter(d=>d===0).attr("transform","translate(0,476)");
const axB2=svg.append("g").attr("transform","translate(0,497)").call(d3.axisBottom(x2).tickValues(evenYears).tickSize(0).tickFormat(d3.format("d")));
styleAxis(axB2,15.5);rotateTicks(axB2);
axB2.selectAll(".tick").filter(d=>d===1990).attr("transform",`translate(1053,0)`);
axB2.selectAll(".tick").filter(d=>d===1992).attr("transform",`translate(1106.5,0)`);
txt(svg,982,349,"Yearly Loss",{s:14.3,w:700,a:"middle",r:-90});
txt(svg,1471,546,"Year",{s:14.3,w:700,a:"middle"});
pin(svg,1500,546,40);
// annotation boxes
const noteBoxes=[[1515,136],[1706,141]];
dropNotes.forEach((d,i)=>{rect(svg,noteBoxes[i][0],213,noteBoxes[i][1],77,"#f8f8f8");});
rect(svg,1160,378,338,47,"#f8f8f8");
dropNotes.forEach((d,i)=>{svg.append("line").attr("x1",x2(d.year)).attr("y1",y2(d.loss)).attr("x2",noteBoxes[i][0]).attr("y2",253).attr("stroke","#d0d0d0").attr("stroke-width",1);
  const cx=noteBoxes[i][0]+noteBoxes[i][1]/2;
  txt(svg,cx,237.5,d.l1,{s:20.5,a:"middle",f:"#444"});txt(svg,cx,265,d.l2,{s:20.5,a:"middle",f:"#444"});});
noteLines.forEach((l,i)=>txt(svg,1167,388+i*20.6,l,{s:15.1,f:"#333"}));
const g2=svg.append("g");
gradLine(g2,lossYears.map((yr,i)=>[x2(yr),y2(yearlyLossK[i]),yearlyLossK[i]]),col2,"g2_",3.6);
clip("c2",964,213,937,351);
svg.append("path").attr("clip-path","url(#c2)").attr("d",d3.line().x(d=>x2(d)).y((d,i)=>y2(lossTrendValues[i]))(lossTrendYears))
  .attr("fill","none").attr("stroke","#55a24d").attr("stroke-width",3).attr("stroke-dasharray","11 4");

// Chart 3
const x3=d3.scaleLinear().domain([30,45]).range([101,956.5]);
const y3=d3.scaleBand().domain(barYears).range([625,660.5]).paddingInner(0.25).paddingOuter(0);
const barColors=["#5aa150","#ecc846"];
svg.append("g").selectAll("rect").data(barYears).join("rect").attr("x",x3(30)).attr("y",d=>y3(d)).attr("width",(d,i)=>x3(barValuesM[i])-x3(30)).attr("height",y3.bandwidth()).attr("fill",(d,i)=>barColors[i]);
barYears.forEach(d=>{txt(svg,95,y3(d)+y3.bandwidth()/2,d,{s:15.5,a:"end",f:"#777"});});
txt(svg,x3(barValuesM[0])+4,633.5,barLabels[0],{s:16,f:"#444"});
txt(svg,x3(barValuesM[1])+4,650,barLabels[1],{s:16,f:"#444"});
const axB3=svg.append("g").attr("transform","translate(0,673)").call(d3.axisBottom(x3).tickValues(barTicks).tickSize(0).tickPadding(0).tickFormat(d=>d+"M"));
styleAxis(axB3,15.5);
axB3.selectAll(".tick").filter(d=>d===30).attr("transform","translate(117.6,0)");
axB3.selectAll(".tick").filter(d=>d===45).attr("transform","translate(938,0)");
txt(svg,528,707,"Forest Area",{s:14.3,w:700,a:"middle"});
pin(svg,581,707,40);
[11,7.5,4].forEach((w,i)=>rect(svg,595,702.5+i*4,w,1.6,"#555"));

// KPIs
const kpiX=[169.5,467,786];
kpiTitles.forEach((t,i)=>{txt(svg,kpiX[i],862,t,{s:20.2,w:500,a:"middle",f:"#222"});txt(svg,kpiX[i],887,kpiValues[i],{s:17.5,a:"middle",f:"#444"});});

// Map
rect(svg,1099,621.5,665,352.5,"#fff");
clip("cm",1099,621.5,665,352.5);
const proj=d3.geoMercator().scale(105.8).translate([1431.5,831]);
const ring=d3.line().x(p=>proj(p)[0]).y(p=>proj(p)[1]).curve(d3.curveLinearClosed);
const colMap=d3.scaleLinear().domain([0,.1,8.15]).range(["#f0f0f0","#eef1ee","#2bff2b"]);
const gm=svg.append("g").attr("clip-path","url(#cm)");
gm.selectAll("path").data(mapCountries).join("path")
  .attr("d",d=>d[2].map(r=>ring(r)).join(""))
  .attr("fill",d=>colMap(d[1])).attr("stroke","#6a6a6a").attr("stroke-width",.75).attr("stroke-linejoin","round");
rect(svg,964,956,214,17,"rgba(255,255,255,.55)");
txt(svg,969,964,"© 2025 Mapbox © OpenStreetMap",{s:13.2,f:"#555",ff:'"Liberation Sans"'});

// Watermark
txt(svg,960,902,"مستقل",{s:66,w:700,a:"middle",f:"rgba(120,120,120,.2)",ff:'"DejaVu Sans"'});
txt(svg,960,951,"mostaql.com",{s:38,w:700,a:"middle",f:"rgba(120,120,120,.2)",ff:'"Liberation Sans"'});
</script></body></html>
